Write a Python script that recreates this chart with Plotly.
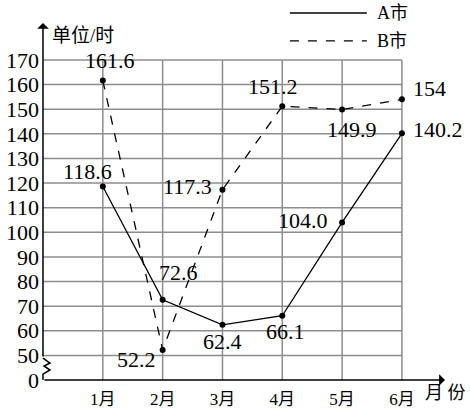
import plotly.graph_objects as go

months = [1, 2, 3, 4, 5, 6]
month_labels = ["1月", "2月", "3月", "4月", "5月", "6月"]
city_a = [118.6, 72.6, 62.4, 66.1, 104.0, 140.2]
city_b = [161.6, 52.2, 117.3, 151.2, 149.9, 154]
a_text = ["118.6", "72.6", "62.4", "66.1", "104.0", "140.2"]
b_text = ["161.6", "52.2", "117.3", "151.2", "149.9", "154"]
y_tickvals = [40, 50, 60, 70, 80, 90, 100, 110, 120, 130, 140, 150, 160, 170]
y_ticktext = ["0", "50", "60", "70", "80", "90", "100", "110", "120", "130", "140", "150", "160", "170"]

# label placement (anchor, xshift, yshift) per point
a_place = [("center", -15, 15), ("center", 16, 27), ("center", 0, -17), ("center", 3, -16),
           ("right", -12, 2), ("left", 9, 4)]
b_place = [("center", 7, 20), ("right", -5, -10), ("right", -8, 3), ("center", -9, 19.5),
           ("center", 10, -20), ("left", 9, 11)]

SERIF = "Liberation Serif, Noto Sans CJK SC, serif"
GRID = "#8c8c8c"

fig = go.Figure()
fig.add_trace(go.Scatter(x=months, y=city_a, mode="lines+markers", name="A市",
                         line=dict(color="black", width=1.3),
                         marker=dict(color="black", size=6), showlegend=False))
fig.add_trace(go.Scatter(x=months, y=city_b, mode="lines+markers", name="B市",
                         line=dict(color="black", width=1.3, dash="dash"),
                         marker=dict(color="black", size=6), showlegend=False))

shapes = []
for v in y_tickvals[1:]:
    shapes.append(dict(type="line", xref="x", yref="y", x0=0, x1=months[-1], y0=v, y1=v,
                       line=dict(color=GRID, width=1.5), layer="below"))
for m in months:
    shapes.append(dict(type="line", xref="x", yref="y", x0=m, x1=m, y0=40, y1=y_tickvals[-1],
                       line=dict(color=GRID, width=1.5), layer="below"))
# axis break zigzag
shapes.append(dict(type="path", xref="x", yref="y",
                   path="M 0,48.9 L 0.117,46.9 L 0.017,45.7 L 0.117,44.06 L 0,42.4 L 0,40",
                   line=dict(color="black", width=1.5)))
# legend lines
shapes.append(dict(type="line", xref="paper", yref="paper", x0=0.617, x1=0.807, y0=1.028, y1=1.028,
                   line=dict(color="black", width=1.3)))
shapes.append(dict(type="line", xref="paper", yref="paper", x0=0.617, x1=0.807, y0=0.950, y1=0.950,
                   line=dict(color="black", width=1.3, dash="dash")))

annotations = []
for xs, ys, texts, places in [(months, city_a, a_text, a_place), (months, city_b, b_text, b_place)]:
    for xv, yv, t, (anc, dx, dy) in zip(xs, ys, texts, places):
        annotations.append(dict(x=xv, y=yv, xref="x", yref="y", text=t, showarrow=False,
                                xanchor=anc, yanchor="middle", xshift=dx, yshift=dy,
                                font=dict(family=SERIF, size=22, color="black")))
# axes with arrows
annotations.append(dict(x=0, y=185, ax=0, ay=48.9, xref="x", yref="y", axref="x", ayref="y",
                        text="", showarrow=True, arrowhead=1, arrowsize=1.3, arrowwidth=1.5,
                        arrowcolor="black", standoff=0, startstandoff=0))
annotations.append(dict(x=6.72, y=40, ax=0, ay=40, xref="x", yref="y", axref="x", ayref="y",
                        text="", showarrow=True, arrowhead=1, arrowsize=1.3, arrowwidth=1.5,
                        arrowcolor="black", standoff=0, startstandoff=0))
# axis titles
annotations.append(dict(x=0.0247, y=0.964, xref="paper", yref="paper", text="单位/时",
                        showarrow=False, xanchor="left", yanchor="middle",
                        font=dict(family=SERIF, size=19, color="black")))
annotations.append(dict(x=0.946, y=-0.0335, xref="paper", yref="paper", text="月 份",
                        showarrow=False, xanchor="left", yanchor="middle",
                        font=dict(family=SERIF, size=18, color="black")))
# legend texts
annotations.append(dict(x=0.827, y=1.028, xref="paper", yref="paper", text="A市",
                        showarrow=False, xanchor="left", yanchor="middle",
                        font=dict(family=SERIF, size=18, color="black")))
annotations.append(dict(x=0.827, y=0.950, xref="paper", yref="paper", text="B市",
                        showarrow=False, xanchor="left", yanchor="middle",
                        font=dict(family=SERIF, size=18, color="black")))

fig.update_layout(
    width=470, height=412,
    margin=dict(l=40, r=25, t=23, b=31, autoexpand=False),
    paper_bgcolor="white", plot_bgcolor="white",
    shapes=shapes, annotations=annotations,
    font=dict(family=SERIF),
    xaxis=dict(range=[-0.05, 6.72], tickvals=months, ticktext=month_labels,
               showgrid=False, zeroline=False, showline=False, automargin=False,
               ticks="outside", ticklen=3, tickcolor="rgba(0,0,0,0)",
               tickfont=dict(family=SERIF, size=17, color="black")),
    yaxis=dict(range=[39.6, 185], tickvals=y_tickvals, ticktext=y_ticktext,
               showgrid=False, zeroline=False, showline=False, ticks="", automargin=False,
               tickfont=dict(family=SERIF, size=22, color="black")),
)

fig.write_html("out.html", config={"displayModeBar": False},
               post_script="document.body.style.margin='0';document.body.style.overflow='hidden';")
